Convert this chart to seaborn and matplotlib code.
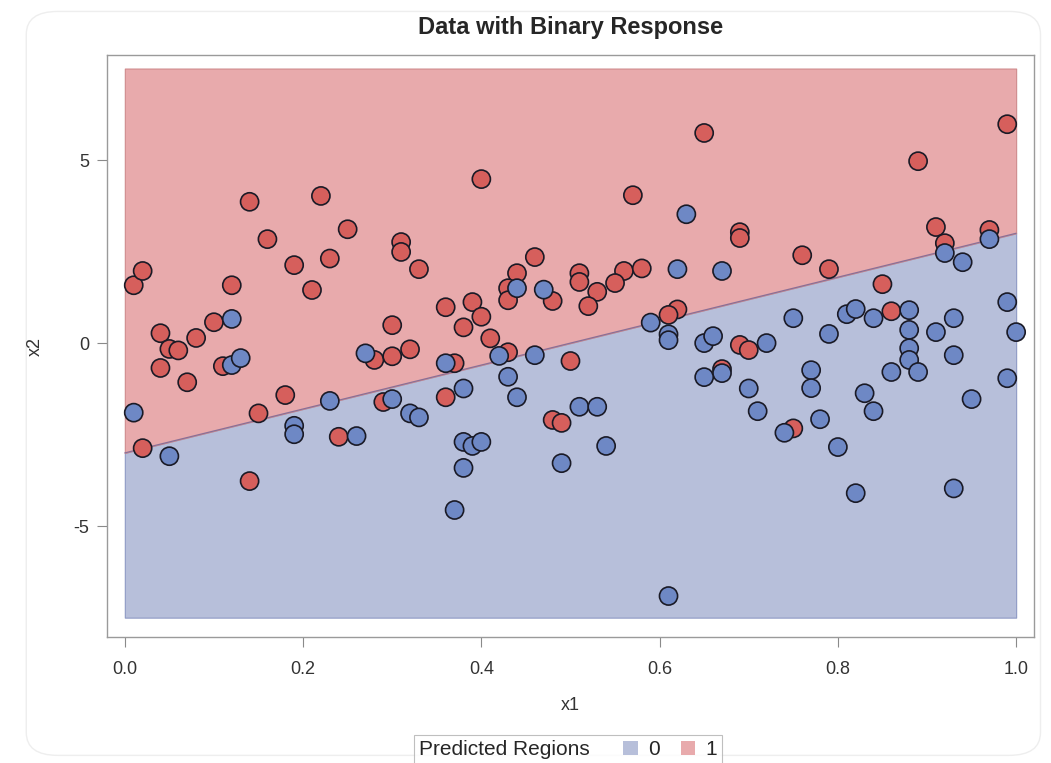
import seaborn as sns
import numpy as np
import pandas as pd
import matplotlib.pyplot as plt
from matplotlib.patches import Patch, FancyBboxPatch
from matplotlib.offsetbox import HPacker

# observed points, class 1 (red)
x1_red = [0.01, 0.02, 0.04, 0.05, 0.06, 0.08, 0.10, 0.04, 0.07, 0.11, 0.12, 0.14, 0.16, 0.19, 0.21,
          0.22, 0.23, 0.25, 0.31, 0.31, 0.33, 0.30, 0.28, 0.30, 0.32, 0.18, 0.15, 0.29, 0.02, 0.24, 0.14,
          0.65, 0.40, 0.57, 0.69, 0.69, 0.46, 0.44, 0.51, 0.51, 0.56, 0.58, 0.55, 0.53, 0.43, 0.48, 0.52,
          0.43, 0.39, 0.36, 0.40, 0.62, 0.61, 0.38, 0.41, 0.69, 0.70, 0.67, 0.37, 0.43, 0.50, 0.36, 0.48,
          0.49, 0.99, 0.89, 0.91, 0.97, 0.92, 0.76, 0.79, 0.85, 0.86, 0.75]
x2_red = [1.58, 1.97, 0.27, -0.16, -0.20, 0.14, 0.57, -0.68, -1.07, -0.63, 1.58, 3.86, 2.84, 2.13, 1.45,
          4.02, 2.31, 3.11, 2.76, 2.49, 2.02, 0.49, -0.46, -0.36, -0.17, -1.42, -1.92, -1.61, -2.87, -2.56, -3.77,
          5.74, 4.48, 4.04, 3.03, 2.87, 2.35, 1.91, 1.91, 1.67, 1.97, 2.04, 1.64, 1.40, 1.50, 1.15, 1.01,
          1.17, 1.12, 0.98, 0.72, 0.92, 0.77, 0.43, 0.13, -0.05, -0.19, -0.71, -0.55, -0.25, -0.49, -1.48, -2.10,
          -2.18, 5.98, 4.97, 3.17, 3.09, 2.73, 2.40, 2.02, 1.61, 0.87, -2.33]

# observed points, class 0 (blue)
x1_blue = [0.12, 0.12, 0.13, 0.27, 0.23, 0.30, 0.32, 0.33, 0.01, 0.05, 0.19, 0.19, 0.26,
           0.63, 0.62, 0.67, 0.44, 0.47, 0.59, 0.61, 0.61, 0.65, 0.66, 0.67, 0.65, 0.36, 0.42, 0.46,
           0.43, 0.38, 0.44, 0.51, 0.53, 0.38, 0.39, 0.40, 0.54, 0.49, 0.38, 0.37, 0.61,
           0.97, 0.92, 0.94, 0.99, 0.81, 0.82, 0.84, 0.88, 0.93, 0.75, 1.00, 0.79, 0.88, 0.91, 0.88,
           0.88, 0.86, 0.89, 0.93, 0.99, 0.72, 0.70, 0.71, 0.77, 0.77, 0.78, 0.74, 0.80, 0.83, 0.84,
           0.95, 0.82, 0.93]
x2_blue = [0.66, -0.60, -0.41, -0.28, -1.58, -1.53, -1.92, -2.03, -1.90, -3.09, -2.26, -2.49, -2.54,
           3.52, 2.02, 1.97, 1.50, 1.46, 0.56, 0.24, 0.08, 0.00, 0.19, -0.82, -0.93, -0.55, -0.35, -0.33,
           -0.92, -1.24, -1.48, -1.74, -1.74, -2.70, -2.81, -2.70, -2.81, -3.28, -3.41, -4.56, -6.91,
           2.84, 2.46, 2.21, 1.12, 0.79, 0.93, 0.68, 0.90, 0.68, 0.68, 0.30, 0.25, 0.36, 0.30, -0.14,
           -0.46, -0.79, -0.79, -0.33, -0.96, 0.00, -1.24, -1.86, -0.74, -1.23, -2.08, -2.45, -2.84, -1.37, -1.86,
           -1.53, -4.10, -3.97]

# predicted regions: boundary line x2 = -3 + 6*x1
region_x = [0.0, 1.0]
boundary = [-3.0, 3.0]
region_lo = [-7.5, -7.5]
region_hi = [7.5, 7.5]

df = pd.DataFrame({
    "x1": x1_red + x1_blue,
    "x2": x2_red + x2_blue,
    "y": [1] * len(x1_red) + [0] * len(x1_blue),
})

sns.set_theme(style="white")
plt.rcParams["font.family"] = ["Liberation Sans", "DejaVu Sans"]
plt.rcParams["axes.unicode_minus"] = False

red_pt, blue_pt = "#D65F5C", "#6E88C5"
red_rg, blue_rg = "#E8AAAC", "#B7BFDA"

fig = plt.figure(figsize=(10.51, 7.63), dpi=100)
ax = fig.add_axes([0.1018, 0.1651, 0.882, 0.7628])

ax.fill_between(region_x, region_lo, boundary, facecolor=blue_rg, edgecolor="#8E99C4", linewidth=0.8)
ax.fill_between(region_x, boundary, region_hi, facecolor=red_rg, edgecolor="#CF8A8C", linewidth=0.8)
ax.plot(region_x, boundary, color="#8A6F96", linewidth=0.9)

sns.scatterplot(data=df, x="x1", y="x2", hue="y", palette={0: blue_pt, 1: red_pt},
                s=170, edgecolor="#1a1a26", linewidth=1.2, legend=False, ax=ax, zorder=3)

ax.set_xlim(-0.02, 1.02)
ax.set_ylim(-8.03, 7.87)
ax.set_xticks([0.0, 0.2, 0.4, 0.6, 0.8, 1.0])
ax.set_yticks([-5, 0, 5])
ax.set_xticklabels(["0.0", "0.2", "0.4", "0.6", "0.8", "1.0"])
ax.tick_params(axis="both", direction="out", length=7, width=0.8, colors="#8a8a8a",
               labelcolor="#333333", labelsize=13, bottom=True, left=True)
ax.tick_params(axis="x", pad=10)
ax.tick_params(axis="y", pad=6)
for sp in ax.spines.values():
    sp.set_color("#9a9a9a")
    sp.set_linewidth(1.0)
ax.set_xlabel("x1", fontsize=13, color="#333333", labelpad=14)
ax.set_ylabel("x2", fontsize=13, color="#333333", labelpad=21)
ax.set_title("Data with Binary Response", fontsize=17, fontweight="bold", pad=15)

handles = [Patch(facecolor=blue_rg, edgecolor="none", label="0"),
           Patch(facecolor=red_rg, edgecolor="none", label="1")]
leg = fig.legend(handles=handles, title="Predicted Regions", title_fontsize=15,
                 loc="upper center", bbox_to_anchor=(0.5405, 0.0367), ncol=2,
                 fontsize=15, frameon=True, fancybox=False, edgecolor="#b0b0b0",
                 handlelength=0.7, handleheight=0.7, handletextpad=0.5, columnspacing=1.0,
                 borderpad=0.25, borderaxespad=0)
leg.get_frame().set_linewidth(0.8)
# put the legend title on the same row as the entries
fs = leg._fontsize
leg._legend_box = HPacker(pad=leg.borderpad * fs, sep=1.6 * fs, align="center",
                          children=[leg._legend_title_box, leg._legend_handle_box])
leg._legend_box.set_figure(fig)
leg._legend_box.set_offset(leg._findoffset)

fig.patches.append(FancyBboxPatch((0.025, 0.01), 0.965, 0.975, boxstyle="round,pad=0,rounding_size=0.03",
                                  transform=fig.transFigure, facecolor="none", edgecolor="#eeeeee",
                                  linewidth=1.0, zorder=-1))

fig.savefig("out.png", dpi=100)
